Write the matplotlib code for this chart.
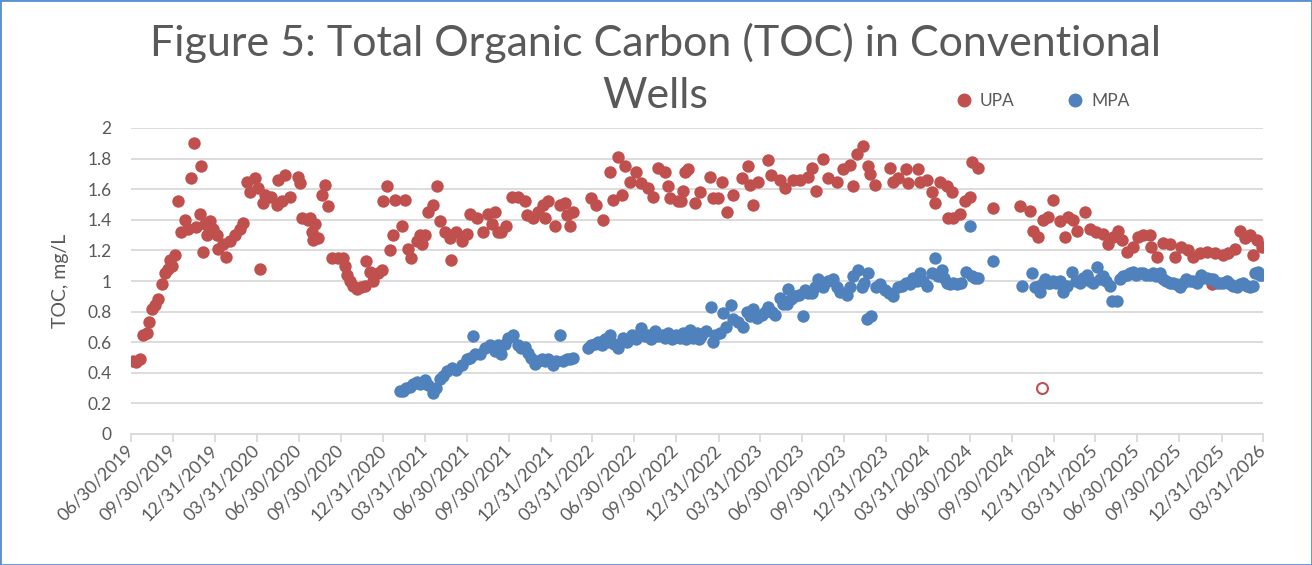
import numpy as np
import pandas as pd
import matplotlib as mpl
mpl.use('Agg')
import matplotlib.pyplot as plt
from matplotlib.lines import Line2D
from matplotlib.patches import Rectangle


################################################################################
# Data (days counted from the first sample date, TOC in mg/L)
################################################################################
START = pd.Timestamp('2019-06-30')

upa_days = [5, 11, 20, 27, 34, 39, 45, 52, 59, 67, 74, 81, 85, 89, 96, 103,
            110, 118, 125, 131, 138, 142, 150, 152, 157, 161, 165, 172, 179,
            187, 190, 201, 208, 216, 227, 237, 245, 252, 259, 270, 277, 280,
            288, 292, 306, 317, 321, 328, 335, 346, 364, 368, 372, 386, 390,
            394, 396, 401, 408, 415, 423, 430, 437, 452, 462, 466, 470, 477,
            484, 492, 502, 510, 513, 521, 528, 539, 546, 550, 557, 564, 571,
            575, 590, 597, 604, 611, 622, 629, 633, 640, 648, 658, 666, 673,
            684, 695, 698, 709, 720, 731, 738, 753, 767, 778, 786, 793, 799,
            807, 818, 829, 844, 858, 862, 876, 887, 898, 902, 909, 923, 934,
            945, 949, 956, 963, 1003, 1014, 1029, 1043, 1050, 1061, 1069, 1076,
            1087, 1101, 1112, 1127, 1138, 1148, 1163, 1170, 1174, 1192, 1199,
            1203, 1207, 1214, 1228, 1239, 1261, 1268, 1279, 1287, 1298, 1312,
            1330, 1345, 1348, 1355, 1366, 1388, 1395, 1414, 1424, 1443, 1457,
            1475, 1483, 1493, 1508, 1519, 1537, 1551, 1566, 1573, 1581, 1595,
            1606, 1610, 1620, 1653, 1660, 1671, 1689, 1693, 1715, 1718, 1733,
            1744, 1751, 1762, 1777, 1779, 1788, 1791, 1806, 1816, 1827, 1831,
            1845, 1878, 1936, 1958, 1965, 1976, 1987, 1997, 2008, 2024, 2034,
            2042, 2052, 2060, 2078, 2089, 2103, 2118, 2129, 2139, 2150, 2158,
            2169, 2183, 2194, 2205, 2219, 2223, 2234, 2248, 2263, 2274, 2288,
            2303, 2314, 2328, 2343, 2354, 2361, 2379, 2390, 2405, 2415, 2426,
            2437, 2444, 2452, 2463]
upa_toc = [0.48, 0.47, 0.49, 0.65, 0.66, 0.73, 0.82, 0.84, 0.88, 0.98, 1.05,
           1.08, 1.14, 1.10, 1.17, 1.52, 1.32, 1.40, 1.34, 1.67, 1.90, 1.35,
           1.44, 1.75, 1.19, 1.37, 1.30, 1.39, 1.34, 1.30, 1.21, 1.24, 1.16,
           1.26, 1.30, 1.34, 1.38, 1.65, 1.58, 1.67, 1.61, 1.08, 1.51, 1.56,
           1.55, 1.50, 1.66, 1.52, 1.69, 1.55, 1.68, 1.64, 1.41, 1.40, 1.41,
           1.32, 1.27, 1.37, 1.28, 1.56, 1.63, 1.49, 1.15, 1.15, 1.15, 1.10,
           1.04, 1.00, 0.97, 0.95, 0.96, 0.97, 1.13, 1.06, 1.00, 1.05, 1.07,
           1.52, 1.62, 1.20, 1.30, 1.53, 1.36, 1.53, 1.21, 1.15, 1.26, 1.30,
           1.24, 1.30, 1.45, 1.50, 1.62, 1.39, 1.32, 1.28, 1.14, 1.32, 1.26,
           1.31, 1.44, 1.41, 1.32, 1.44, 1.37, 1.45, 1.32, 1.32, 1.36, 1.55,
           1.55, 1.52, 1.43, 1.41, 1.45, 1.50, 1.41, 1.52, 1.36, 1.50, 1.51,
           1.43, 1.36, 1.45, 1.54, 1.50, 1.40, 1.71, 1.53, 1.81, 1.56, 1.75,
           1.65, 1.71, 1.64, 1.61, 1.55, 1.74, 1.71, 1.62, 1.54, 1.52, 1.52,
           1.59, 1.71, 1.73, 1.51, 1.58, 1.68, 1.54, 1.54, 1.65, 1.45, 1.56,
           1.67, 1.75, 1.63, 1.50, 1.65, 1.79, 1.69, 1.66, 1.61, 1.66, 1.66,
           1.68, 1.74, 1.59, 1.80, 1.67, 1.65, 1.73, 1.76, 1.62, 1.83, 1.88,
           1.75, 1.70, 1.63, 1.74, 1.65, 1.67, 1.73, 1.64, 1.73, 1.65, 1.66,
           1.58, 1.51, 1.65, 1.62, 1.41, 1.58, 1.41, 1.44, 1.52, 1.55, 1.78,
           1.74, 1.48, 1.49, 1.46, 1.33, 1.29, 1.40, 1.42, 1.53, 1.39, 1.29,
           1.42, 1.40, 1.33, 1.45, 1.34, 1.32, 1.31, 1.24, 1.29, 1.33, 1.27,
           1.19, 1.22, 1.29, 1.30, 1.30, 1.22, 1.16, 1.25, 1.24, 1.16, 1.22,
           1.20, 1.16, 1.18, 1.19, 0.98, 1.18, 1.17, 1.18, 1.21, 1.33, 1.28,
           1.30, 1.17, 1.27, 1.22]

mpa_days = [586, 593, 599, 608, 614, 622, 629, 640, 647, 658, 664, 673, 680,
            688, 699, 709, 720, 731, 738, 746, 749, 760, 771, 782, 793, 799,
            807, 815, 822, 833, 843, 849, 858, 865, 871, 880, 886, 895, 902,
            909, 920, 926, 934, 941, 949, 956, 963, 995, 1003, 1010, 1018,
            1026, 1032, 1039, 1043, 1052, 1061, 1072, 1080, 1091, 1100, 1112,
            1120, 1127, 1133, 1141, 1148, 1156, 1163, 1170, 1178, 1188, 1195,
            1203, 1209, 1218, 1224, 1232, 1237, 1242, 1253, 1264, 1268, 1272,
            1283, 1290, 1296, 1308, 1312, 1323, 1334, 1341, 1349, 1355, 1363,
            1374, 1381, 1388, 1396, 1403, 1414, 1420, 1428, 1431, 1437, 1446,
            1455, 1464, 1468, 1475, 1483, 1490, 1497, 1508, 1518, 1529, 1538,
            1545, 1559, 1566, 1573, 1584, 1592, 1597, 1603, 1606, 1613, 1624,
            1631, 1642, 1651, 1660, 1671, 1679, 1689, 1696, 1704, 1712, 1718,
            1725, 1733, 1744, 1751, 1758, 1766, 1771, 1777, 1784, 1791, 1799,
            1809, 1820, 1827, 1831, 1838, 1845, 1878, 1940, 1962, 1969, 1973,
            1980, 1984, 1991, 1997, 2002, 2008, 2015, 2023, 2031, 2039, 2049,
            2058, 2067, 2074, 2082, 2089, 2096, 2104, 2111, 2118, 2124, 2132,
            2137, 2147, 2154, 2161, 2169, 2176, 2183, 2189, 2198, 2204, 2212,
            2219, 2227, 2233, 2241, 2248, 2255, 2263, 2270, 2276, 2285, 2292,
            2299, 2307, 2314, 2322, 2331, 2336, 2343, 2350, 2357, 2365, 2372,
            2378, 2387, 2394, 2400, 2409, 2416, 2423, 2431, 2437, 2444, 2448,
            2455, 2459, 2463]
mpa_toc = [0.28, 0.28, 0.30, 0.31, 0.33, 0.34, 0.33, 0.35, 0.32, 0.27, 0.30,
           0.36, 0.38, 0.41, 0.43, 0.42, 0.45, 0.49, 0.50, 0.64, 0.52, 0.52,
           0.56, 0.58, 0.54, 0.58, 0.52, 0.59, 0.63, 0.65, 0.58, 0.56, 0.57,
           0.53, 0.50, 0.46, 0.48, 0.49, 0.48, 0.49, 0.45, 0.48, 0.65, 0.48,
           0.49, 0.49, 0.50, 0.56, 0.58, 0.59, 0.60, 0.58, 0.62, 0.60, 0.65,
           0.59, 0.56, 0.63, 0.60, 0.65, 0.62, 0.69, 0.64, 0.65, 0.62, 0.67,
           0.64, 0.65, 0.63, 0.66, 0.62, 0.65, 0.63, 0.66, 0.62, 0.68, 0.63,
           0.66, 0.62, 0.64, 0.67, 0.83, 0.60, 0.65, 0.66, 0.79, 0.70, 0.84,
           0.75, 0.73, 0.70, 0.80, 0.77, 0.82, 0.76, 0.78, 0.80, 0.83, 0.80,
           0.78, 0.89, 0.85, 0.85, 0.95, 0.88, 0.90, 0.91, 0.77, 0.94, 0.92,
           0.92, 0.96, 1.01, 0.96, 1.00, 1.01, 0.96, 0.93, 0.91, 0.96, 1.03,
           1.07, 0.96, 0.99, 0.75, 1.05, 0.77, 0.96, 0.98, 0.94, 0.92, 0.90,
           0.96, 0.97, 0.99, 0.98, 1.02, 1.00, 1.05, 1.00, 0.97, 1.05, 1.15,
           1.03, 1.07, 1.02, 0.99, 0.98, 0.99, 0.98, 0.99, 1.06, 1.36, 1.03,
           1.02, 1.02, 1.13, 0.97, 1.05, 0.96, 0.96, 0.93, 0.98, 1.01, 0.99,
           0.99, 1.00, 0.99, 1.00, 0.93, 0.97, 1.06, 1.00, 0.99, 1.02, 1.04,
           1.00, 0.99, 1.09, 1.01, 1.03, 1.00, 0.97, 0.87, 0.87, 1.01, 1.03,
           1.04, 1.05, 1.06, 1.04, 1.05, 1.05, 1.04, 1.04, 1.05, 1.03, 1.05,
           1.01, 1.00, 0.99, 0.99, 0.98, 0.96, 0.99, 1.01, 1.00, 1.00, 0.99,
           1.04, 1.02, 1.02, 1.01, 1.01, 0.99, 0.99, 0.99, 1.00, 0.98, 0.97,
           0.96, 0.98, 0.99, 0.97, 0.96, 0.97, 1.05, 1.06, 1.04, 1.04]

# single UPA result shown as an open marker
upa_open_days = [1984]
upa_open_toc = [0.30]

tick_dates = [START + pd.offsets.QuarterEnd(k) for k in range(28)]
tick_labels = [d.strftime('%m/%d/%Y') for d in tick_dates]
y_ticks = [0, 0.2, 0.4, 0.6, 0.8, 1, 1.2, 1.4, 1.6, 1.8, 2]

RED = '#C0504D'
BLUE = '#4F81BD'
TXT = '#595959'
GRID = '#D9D9D9'


################################################################################
# Plot
################################################################################
plt.rcParams['font.family'] = ['Lato', 'DejaVu Sans']

fig = plt.figure(figsize=(13.12, 5.65), dpi=100)
ax = fig.add_axes([131/1312, 1-434/565, 1132/1312, 306/565])

upa_dates = START + pd.to_timedelta(upa_days, unit='D')
mpa_dates = START + pd.to_timedelta(mpa_days, unit='D')
open_dates = START + pd.to_timedelta(upa_open_days, unit='D')

ax.scatter(upa_dates, upa_toc, s=80, color=RED, linewidths=0, zorder=3)
ax.scatter(open_dates, upa_open_toc, s=62, facecolor='white',
           edgecolor=RED, linewidths=1.5, zorder=3)
ax.scatter(mpa_dates, mpa_toc, s=80, color=BLUE, linewidths=0, zorder=4)

ax.set_xlim(tick_dates[0], tick_dates[-1])
ax.set_ylim(0, 2)
ax.set_yticks(y_ticks)
ax.set_yticklabels([f'{v:g}' for v in y_ticks], fontsize=12.5, color=TXT)
ax.set_xticks(tick_dates)
ax.set_xticklabels(tick_labels, rotation=45, ha='right', va='center',
                   rotation_mode='anchor', fontsize=13, color=TXT)

ax.yaxis.grid(True, color=GRID, linewidth=1.3)
ax.set_axisbelow(True)
for s in ['top', 'right', 'left']:
    ax.spines[s].set_visible(False)
ax.spines['bottom'].set_color(GRID)
ax.spines['bottom'].set_linewidth(1.3)
ax.tick_params(axis='y', length=0, pad=14)
ax.tick_params(axis='x', direction='out', length=6, width=1.3,
               color=GRID, pad=4)

ax.set_ylabel('TOC, mg/L', fontsize=14, color=TXT)
ax.yaxis.set_label_coords(-62/1132, 0.5)

# two-line title, each line as its own text
fig.text(0.4995, 1-56/565, 'Figure 5: Total Organic Carbon (TOC) in Conventional',
         ha='center', va='baseline', fontsize=31, color=TXT)
fig.text(0.4995, 1-108/565, 'Wells',
         ha='center', va='baseline', fontsize=31, color=TXT)

handles = [Line2D([], [], marker='o', ls='', ms=9, color=RED),
           Line2D([], [], marker='o', ls='', ms=9, color=BLUE)]
fig.legend(handles=handles, labels=['UPA', 'MPA'], ncol=2, frameon=False,
           loc='center left', bbox_to_anchor=(940/1312, 1-101/565),
           fontsize=12.5, labelcolor=TXT, handletextpad=0.4,
           columnspacing=3.0, handlelength=1.0)

fig.add_artist(Rectangle((0, 0), 1, 1, transform=fig.transFigure,
                         fill=False, edgecolor='#5B8FD0', linewidth=2))

plt.savefig('out.png', dpi=100)
plt.close()
